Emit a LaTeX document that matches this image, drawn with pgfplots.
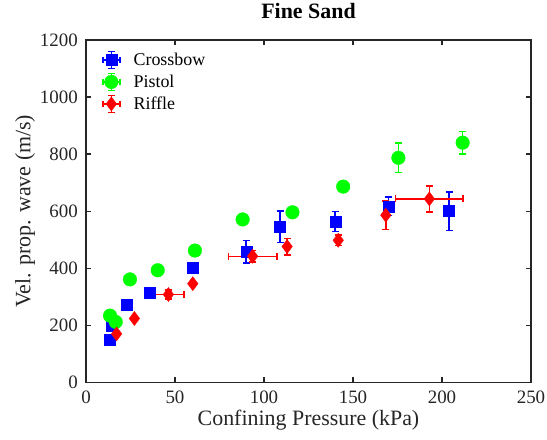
\documentclass[border=0pt]{standalone}
\usepackage{fontspec}
\setmainfont{Liberation Serif}
\usepackage{pgfplots}
\pgfplotsset{compat=1.18}

\definecolor{cbow}{RGB}{0,0,255}
\definecolor{pist}{RGB}{0,255,0}
\definecolor{rifl}{RGB}{255,0,0}
\definecolor{axc}{RGB}{38,38,38}

\begin{document}
\begin{tikzpicture}
\begin{axis}[
  scale only axis,
  width=445bp, height=342.5bp,
  xmin=0, xmax=250, ymin=0, ymax=1200,
  xtick={0,50,...,250}, ytick={0,200,...,1200},
  xticklabels={0,50,100,150,200,250},
  yticklabels={0,200,400,600,800,1000,1200},
  tick label style={font=\fontsize{19}{19}\selectfont, color=axc, inner sep=0pt},
  xticklabel style={anchor=base, yshift=-21bp},
  yticklabel style={anchor=east, xshift=-8bp},
  label style={font=\fontsize{22}{22}\selectfont, color=axc},
  xlabel style={at={(0.5,-0.1255)}, anchor=base},
  ylabel style={at={(-0.137,0.5)}, anchor=center},
  title style={font=\fontsize{22}{22}\selectfont\bfseries,
    at={(0.5,1.045)}, anchor=base},
  title={Fine Sand},
  xlabel={Confining Pressure (kPa)},
  ylabel={Vel. prop. wave (m/s)},
  axis line style={color=axc, line width=1.2bp},
  major tick style={color=axc, line width=1.2bp},
  major tick length=5bp,
  tick align=inside,
  legend cell align=left,
  legend style={draw=none, fill=none, at={(0.029,0.975)}, anchor=north west,
    font=\fontsize{18}{20}\selectfont, row sep=3.5bp, column sep=11bp},
  legend image code/.code={%
    \draw[#1, mark=none, line width=1.5bp]
      (0cm,0cm)--(0.6cm,0cm) (0.3cm,-0.3cm)--(0.3cm,0.3cm)
      (0cm,-0.12cm)--(0cm,0.12cm) (0.6cm,-0.12cm)--(0.6cm,0.12cm)
      (0.18cm,0.3cm)--(0.42cm,0.3cm) (0.18cm,-0.3cm)--(0.42cm,-0.3cm);
    \draw[#1, only marks] plot coordinates {(0.3cm,0cm)};
  },
  error bars/error bar style={line width=1.5bp},
  error bars/error mark options={rotate=90, mark size=3.5bp, line width=1.5bp},
]
\addplot[only marks, color=cbow, mark=square*, mark size=5.5bp,
  error bars/.cd, x dir=both, x explicit, y dir=both, y explicit]
  table[x=x, y=y, x error=ex, y error=ey] {
x     y    ex   ey
13.5  151  0    0
14.4  197  0    0
23.0  273  0    0
36.0  313  0    0
60.0  401  0    0
90.0  458  0    40
109.0 545  0    55
140.0 563  0    35
170.0 617  0    32
204.0 600  0    67
};
\addlegendentry{Crossbow}
\addplot[only marks, color=pist, mark=*, mark size=6.8bp,
  error bars/.cd, x dir=both, x explicit, y dir=both, y explicit]
  table[x=x, y=y, x error=ex, y error=ey] {
x     y    ex   ey
13.5  234  0    0
16.7  212  0    0
24.7  361  0    0
40.3  393  0    0
61.2  462  0    0
88.0  571  0    0
116.0 596  0    0
144.5 686  0    0
175.5 787  0    51
211.6 840  0    40
};
\addlegendentry{Pistol}
\addplot[only marks, color=rifl, mark=diamond*, mark size=7bp,
  error bars/.cd, x dir=both, x explicit, y dir=both, y explicit]
  table[x=x, y=y, x error=ex, y error=ey] {
x     y    ex    ey
17.2  170  0     0
27.2  224  0     0
46.3  308  8.8   15
60.0  346  0     0
93.6  442  13.6  20
113.0 476  0     29
141.7 498  0     18
168.4 586  0     50
192.9 643  19    46
};
\addlegendentry{Riffle}
\end{axis}
\path ([xshift=-86bp, yshift=-57bp]current axis.south west)
  rectangle ([xshift=16bp, yshift=35.5bp]current axis.north east);
\end{tikzpicture}
\end{document}
